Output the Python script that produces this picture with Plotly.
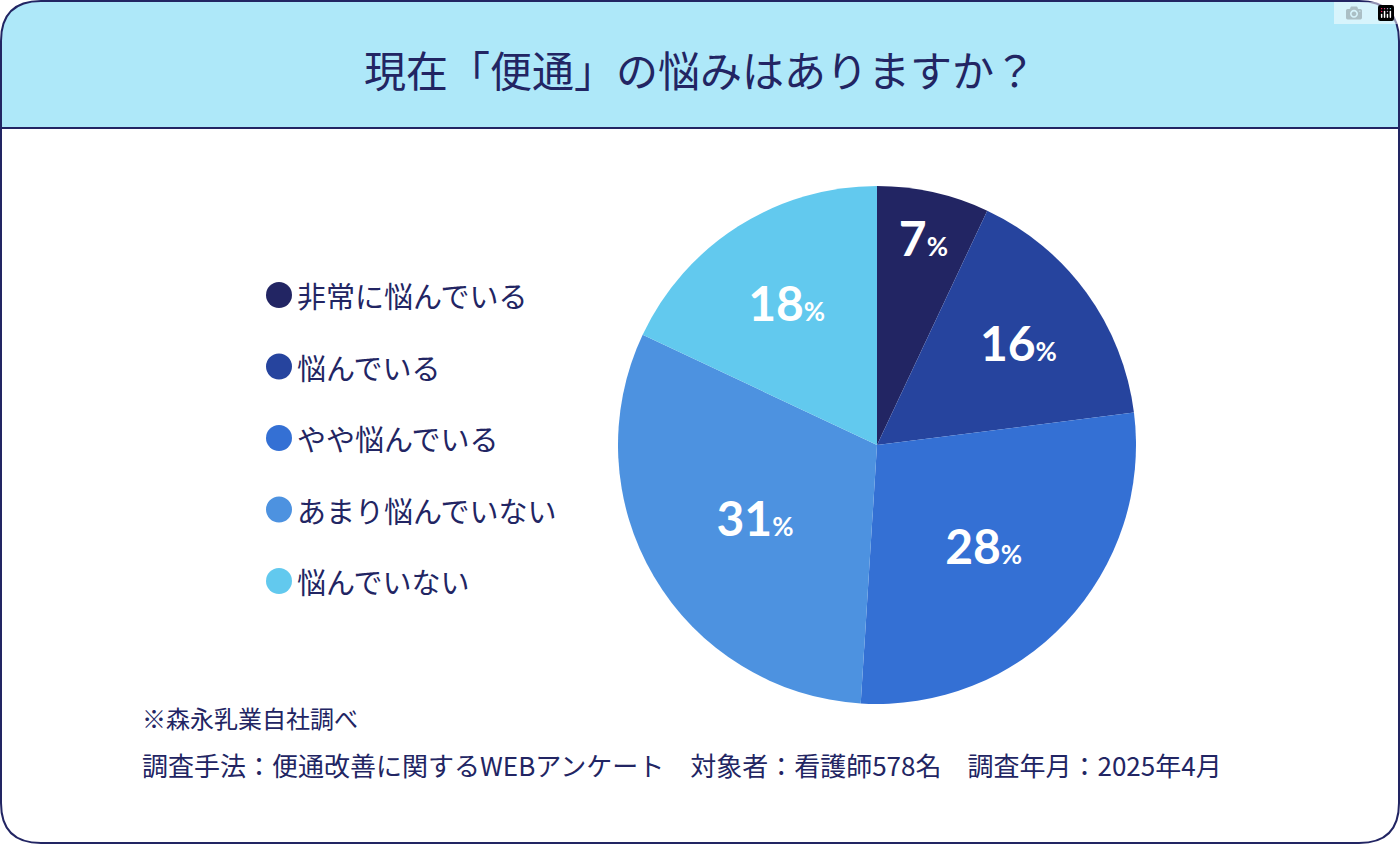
import plotly.graph_objects as go

labels = ["非常に悩んでいる", "悩んでいる", "やや悩んでいる", "あまり悩んでいない", "悩んでいない"]
values = [7, 16, 28, 31, 18]
colors = ["#222563", "#26449e", "#3470d4", "#4d92e0", "#62c9ee"]
title = "現在「便通」の悩みはありますか？"
note1 = "※森永乳業自社調べ"
note2 = "調査手法：便通改善に関するWEBアンケート　対象者：看護師578名　調査年月：2025年4月"

W, H = 1400, 844
FONT = "Noto Sans CJK JP"
NAVY = "#222563"

fig = go.Figure(go.Pie(
    labels=labels, values=values, sort=False, direction="clockwise", rotation=0,
    marker=dict(colors=colors, line=dict(width=0)),
    texttemplate="<b>%{value}</b><span style='font-size:26px'><b>%</b></span>",
    textposition="inside", insidetextorientation="horizontal",
    textfont=dict(family="Lato, " + FONT, size=48, color="white"),
    showlegend=False, hoverinfo="label+percent",
    domain=dict(x=[618/W, 1136/W], y=[1-704/H, 1-186/H]),
))

r = 40
card = f"M {1+r},1 L {W-1-r},1 Q {W-1},1 {W-1},{1+r} L {W-1},{H-1-r} Q {W-1},{H-1} {W-1-r},{H-1} L {1+r},{H-1} Q 1,{H-1} 1,{H-1-r} L 1,{1+r} Q 1,1 {1+r},1 Z"
header = f"M {1+r},1 L {W-1-r},1 Q {W-1},1 {W-1},{1+r} L {W-1},128 L 1,128 L 1,{1+r} Q 1,1 {1+r},1 Z"

def flip(path):
    out = []
    for t in path.split():
        if "," in t:
            a, b = t.split(",")
            out.append(f"{a},{H-float(b)}")
        else:
            out.append(t)
    return " ".join(out)

shapes = [
    dict(type="path", xref="x", yref="y", path=flip(header), fillcolor="#aee8f9", line=dict(width=0), layer="below"),
    dict(type="line", xref="x", yref="y", x0=1, x1=W-1, y0=H-128, y1=H-128, line=dict(color=NAVY, width=2)),
    dict(type="path", xref="x", yref="y", path=flip(card), fillcolor="rgba(0,0,0,0)", line=dict(color=NAVY, width=2)),
]

annotations = [
    dict(x=W/2, y=H-68, xref="x", yref="y", text=title, showarrow=False,
         font=dict(family=FONT, size=42, color=NAVY), xanchor="center", yanchor="middle"),
    dict(x=140, y=H-717, xref="x", yref="y", text=note1, showarrow=False,
         font=dict(family=FONT, size=24, color=NAVY), xanchor="left", yanchor="middle"),
    dict(x=140, y=H-764, xref="x", yref="y", text=note2, showarrow=False,
         font=dict(family=FONT, size=26, color=NAVY), xanchor="left", yanchor="middle"),
]
for i, (lab, col) in enumerate(zip(labels, colors)):
    y = 295 + i * 71.5
    shapes.append(dict(type="circle", xref="x", yref="y", x0=266, x1=292, y0=H-y-13, y1=H-y+13,
                       fillcolor=col, line=dict(width=0)))
    annotations.append(dict(x=295, y=H-y, xref="x", yref="y", text=lab, showarrow=False,
                            font=dict(family=FONT, size=29, color=NAVY), xanchor="left", yanchor="middle"))

fig.update_layout(
    width=W, height=H, margin=dict(l=0, r=0, t=0, b=0),
    paper_bgcolor="white", plot_bgcolor="rgba(0,0,0,0)",
    xaxis=dict(range=[0, W], visible=False, fixedrange=True),
    yaxis=dict(range=[0, H], visible=False, fixedrange=True),
    shapes=shapes, annotations=annotations,
)
fig.write_html("out.html", post_script="document.body.style.margin='0';document.body.style.overflow='hidden';")
